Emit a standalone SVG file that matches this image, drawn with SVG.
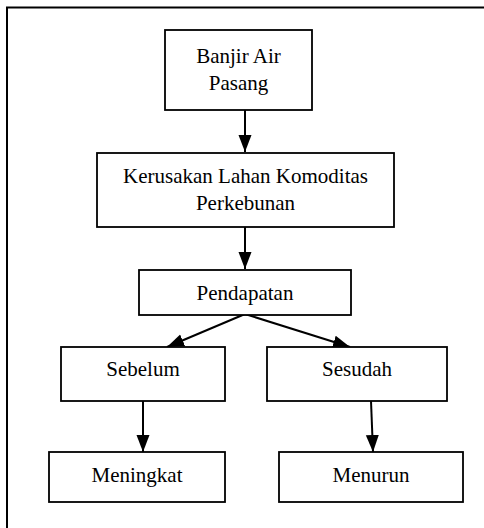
<svg xmlns="http://www.w3.org/2000/svg" width="484" height="528" viewBox="0 0 484 528">
<defs>
<style>
.box{fill:#fff;stroke:#000;stroke-width:1.8}
.t{font-family:"Liberation Serif","Times New Roman",serif;font-size:21px;fill:#000;text-anchor:middle}
.c{stroke:#000;stroke-width:2;fill:none}
</style>
<marker id="ah" markerUnits="userSpaceOnUse" markerWidth="18" markerHeight="18" viewBox="0 0 18 18" refX="17" refY="9" orient="auto">
<path d="M0,2.5 L17,9 L0,15.5 Z" fill="#000"/>
</marker>
</defs>
<rect x="0" y="0" width="484" height="528" fill="#fff"/>
<path d="M7,528 V7.5 H484" fill="none" stroke="#000" stroke-width="2"/>
<g id="connectors">
<line class="c" x1="245" y1="110" x2="245" y2="152" marker-end="url(#ah)"/>
<line class="c" x1="245" y1="227" x2="245" y2="269" marker-end="url(#ah)"/>
<line class="c" x1="245" y1="314" x2="167" y2="347" marker-end="url(#ah)"/>
<line class="c" x1="245" y1="314" x2="350" y2="347" marker-end="url(#ah)"/>
<line class="c" x1="143" y1="401" x2="143" y2="452" marker-end="url(#ah)"/>
<line class="c" x1="371" y1="401" x2="373" y2="452" marker-end="url(#ah)"/>
</g>
<g id="n1">
<rect class="box" x="165" y="30" width="147" height="80"/>
<text class="t" x="238.5" y="63">Banjir Air</text>
<text class="t" x="238.5" y="90">Pasang</text>
</g>
<g id="n2">
<rect class="box" x="97" y="153" width="297" height="74"/>
<text class="t" x="245.5" y="183">Kerusakan Lahan Komoditas</text>
<text class="t" x="245.5" y="210">Perkebunan</text>
</g>
<g id="n3">
<rect class="box" x="139" y="270" width="212" height="45"/>
<text class="t" x="245" y="300">Pendapatan</text>
</g>
<g id="n4">
<rect class="box" x="61" y="347" width="164" height="54"/>
<text class="t" x="143" y="376">Sebelum</text>
</g>
<g id="n5">
<rect class="box" x="267" y="347" width="180" height="54"/>
<text class="t" x="357" y="376">Sesudah</text>
</g>
<g id="n6">
<rect class="box" x="49" y="452" width="176" height="50"/>
<text class="t" x="137" y="482">Meningkat</text>
</g>
<g id="n7">
<rect class="box" x="279" y="452" width="184" height="50"/>
<text class="t" x="371" y="482">Menurun</text>
</g>
</svg>
